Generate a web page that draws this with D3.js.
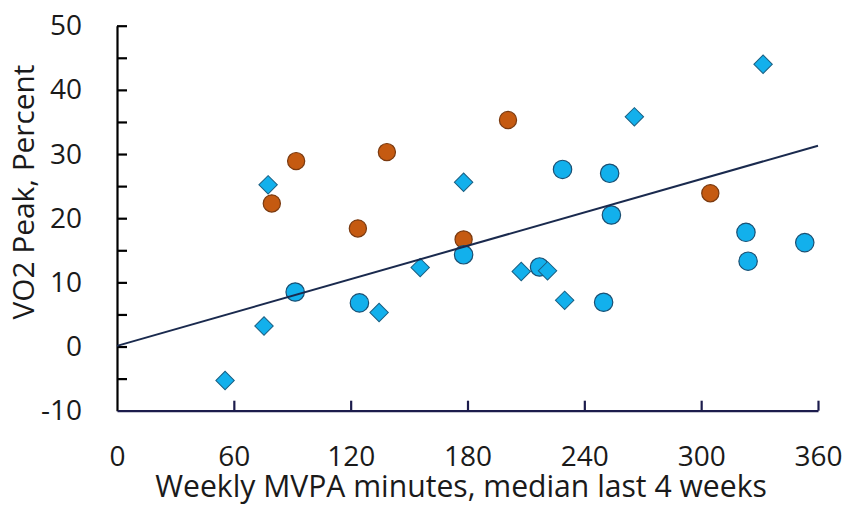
<!DOCTYPE html>
<html><head><meta charset="utf-8">
<script src="https://cdn.jsdelivr.net/npm/d3@7"></script>
<style>body{margin:0;background:#fff}svg{display:block}text{font-family:"Open Sans","Noto Sans",sans-serif}</style>
</head><body><svg id="c" width="846" height="506"></svg>
<script>
// Data (x = weekly MVPA minutes, y = VO2 peak percent)
const orangeX = [79.5, 92, 123.7, 138.6, 178, 200.8, 304.7];
const orangeY = [22.3, 28.9, 18.4, 30.3, 16.7, 35.3, 23.9];
const blueCircleX = [91.5, 124.5, 178, 217, 228.8, 249.9, 253, 253.9, 323, 324.1, 353.2];
const blueCircleY = [8.5, 6.8, 14.3, 12.4, 27.6, 6.9, 27.0, 20.5, 17.8, 13.3, 16.2];
const diamondX = [55.5, 75.5, 77.6, 134.6, 155.7, 178, 207.6, 221.1, 229.9, 265.7, 331.8];
const diamondY = [-5.3, 3.2, 25.2, 5.3, 12.3, 25.6, 11.7, 11.8, 7.2, 35.8, 44.0];
const trendX = [0, 360];
const trendY = [0.1, 31.3];
const xTicks = [0, 60, 120, 180, 240, 300, 360];
const yTicks = [-10, -5, 0, 5, 10, 15, 20, 25, 30, 35, 40, 45, 50];
const xTitle = "Weekly MVPA minutes, median last 4 weeks";
const yTitle = "VO2 Peak, Percent";

const W = 846, H = 506;
const m = {l: 117, r: 28, t: 25.7, b: 95.3};
const svg = d3.select("#c");
const x = d3.scaleLinear().domain([0, 360]).range([m.l, W - m.r]);
const y = d3.scaleLinear().domain([-10, 50]).range([H - m.b, m.t]);

const fs = 28;
const txt = "#1a1a1a";
// Y axis
const ya = svg.append("g").attr("transform", `translate(${m.l},0)`)
  .call(d3.axisLeft(y).tickValues(yTicks).tickSizeInner(-10).tickSizeOuter(0).tickPadding(35)
    .tickFormat(d => d % 10 === 0 ? d : ""));
ya.selectAll("path,line").attr("stroke", "#000").attr("stroke-width", 2.2);
ya.selectAll("text").attr("font-size", fs).attr("fill", txt).attr("font-family", "Open Sans");
ya.selectAll(".tick").filter(d => d === -10).select("line").remove();

// X axis
const xa = svg.append("g").attr("transform", `translate(0,${H - m.b})`)
  .call(d3.axisBottom(x).tickValues(xTicks).tickSizeInner(-10).tickSizeOuter(0).tickPadding(35));
xa.selectAll("path,line").attr("stroke", "#1c1c4c").attr("stroke-width", 2.2);
xa.selectAll("text").attr("font-size", fs).attr("fill", txt).attr("font-family", "Open Sans");
xa.selectAll(".tick").filter(d => d === 0).select("line").remove();

// Titles (fit to reference extents)
function fit(sel, target) {
  const len = sel.node().getComputedTextLength();
  sel.attr("font-size", fs * target / len);
}
const xt = svg.append("text").attr("x", 461).attr("y", 497).attr("text-anchor", "middle")
  .attr("font-size", fs).attr("fill", txt).text(xTitle);
fit(xt, 612);
const yt = svg.append("text").attr("transform", "translate(34,192) rotate(-90)").attr("text-anchor", "middle")
  .attr("font-size", fs).attr("fill", txt).text(yTitle);
fit(yt, 255);

// Points
const orange = orangeX.map((v, i) => [v, orangeY[i]]);
const bc = blueCircleX.map((v, i) => [v, blueCircleY[i]]);
const dm = diamondX.map((v, i) => [v, diamondY[i]]);

svg.append("g").selectAll("circle").data(orange).join("circle")
  .attr("cx", d => x(d[0])).attr("cy", d => y(d[1])).attr("r", 8.6)
  .attr("fill", "#c55a11").attr("stroke", "#7a3a10").attr("stroke-width", 1.2);
svg.append("g").selectAll("circle").data(bc).join("circle")
  .attr("cx", d => x(d[0])).attr("cy", d => y(d[1])).attr("r", 9.2)
  .attr("fill", "#12b0ec").attr("stroke", "#1b4f72").attr("stroke-width", 1.2);
const dsym = d3.symbol().type(d3.symbolSquare).size(170);
svg.append("g").selectAll("path").data(dm).join("path")
  .attr("d", dsym)
  .attr("transform", d => `translate(${x(d[0])},${y(d[1])}) rotate(45)`)
  .attr("fill", "#12b0ec").attr("stroke", "#1b5f82").attr("stroke-width", 1);

// Trend line
svg.append("line")
  .attr("x1", x(trendX[0])).attr("y1", y(trendY[0]))
  .attr("x2", x(trendX[1])).attr("y2", y(trendY[1]))
  .attr("stroke", "#1a2a4e").attr("stroke-width", 2);
</script></body></html>
